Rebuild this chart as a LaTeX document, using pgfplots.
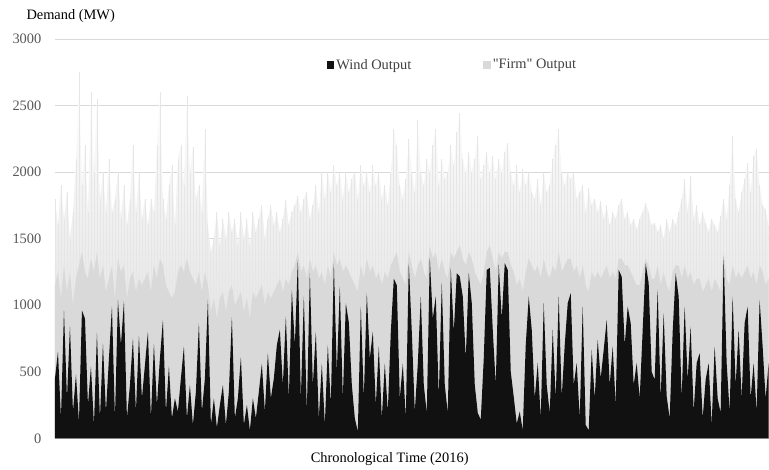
\documentclass[border=0pt]{standalone}
\usepackage{pgfplots}
\usepackage{pgfplotstable}
\usepackage{fontspec}
\setmainfont{Liberation Serif}
\newfontfamily\plainserif{Liberation Serif}
\pgfplotsset{compat=1.18}
\definecolor{windc}{HTML}{111111}
\definecolor{firmc}{HTML}{D9D9D9}
\definecolor{firmmid}{HTML}{E6E6E6}
\definecolor{gridc}{HTML}{D9D9D9}
\definecolor{tickc}{HTML}{595959}
\definecolor{legc}{HTML}{404040}
\newcommand{\cf}{\fontsize{14.4bp}{17bp}\selectfont}
\pgfplotstableread{
x wind body peak
0 450 1150 1800
3 650 1250 1600
6 150 1050 1900
9 960 1300 1650
12 300 1100 1850
15 840 1250 1500
18 200 1000 1700
21 480 1200 2100
24 120 1300 2750
27 960 1400 1900
30 900 1250 2200
33 250 1200 1700
36 540 1350 2600
39 100 1250 2000
42 790 1400 2550
45 150 1200 1800
48 710 1300 2000
51 200 1100 1700
54 600 1200 2100
57 990 1300 1700
60 150 1050 1800
63 1040 1350 2000
66 700 1250 1650
69 1030 1300 1900
72 150 1050 1600
75 400 1200 1800
78 750 1250 2200
81 200 1100 1700
84 770 1200 2000
87 300 1150 1650
90 550 1200 1800
93 800 1250 1600
96 150 1100 1800
99 710 1300 1700
102 250 1200 2200
105 600 1350 2600
108 890 1300 1800
111 200 1150 1650
114 540 1100 1900
117 150 1050 2050
120 300 1100 1600
123 200 1250 2100
126 450 1300 2200
129 690 1250 1900
132 150 1350 2570
135 400 1250 2000
138 100 1200 2190
141 350 1150 1800
144 865 1250 1900
147 200 1100 1700
150 450 1250 2320
153 1040 1150 1600
156 100 950 1400
159 300 1050 1500
162 80 900 1700
165 250 1050 1450
168 400 1100 1650
171 100 950 1500
174 350 1100 1700
177 910 1150 1550
180 150 1000 1650
183 300 1050 1450
186 610 1100 1700
189 100 950 1500
192 250 1050 1650
195 60 900 1450
198 300 1100 1700
201 150 1050 1550
204 350 1100 1650
207 560 1150 1750
210 200 1000 1500
213 640 1100 1650
216 300 1050 1750
219 450 1100 1600
222 700 1150 1700
225 815 1200 1550
228 400 1100 1650
231 915 1200 1790
234 300 1150 1600
237 1115 1250 1700
240 700 1300 1750
243 1340 1400 1820
246 300 1250 1700
249 1065 1300 1800
252 200 1200 1850
255 1240 1350 1650
258 400 1250 1750
261 800 1300 1900
264 150 1200 1700
267 560 1250 2000
270 100 1150 1800
273 700 1300 2000
276 250 1200 1850
279 1315 1400 2050
282 500 1300 1900
285 1140 1350 2000
288 300 1250 1800
291 1015 1300 2000
294 870 1250 1850
297 400 1200 1950
300 150 1150 2000
303 50 1100 1800
306 990 1300 2050
309 300 1200 1900
312 1090 1350 2000
315 600 1250 1850
318 800 1300 2050
321 250 1200 1900
324 690 1250 2000
327 150 1150 1800
330 560 1250 1900
333 200 1200 1750
336 800 1300 2000
339 1200 1350 2320
342 1150 1400 2200
345 300 1250 1900
348 560 1200 1800
351 150 1150 1950
354 1315 1400 2245
357 800 1300 2000
360 200 1200 1850
363 560 1300 2395
366 1065 1350 2000
369 400 1250 1900
372 190 1200 2100
375 1355 1450 2000
378 900 1350 2200
381 1065 1400 2320
384 310 1250 1900
387 1165 1350 2100
390 400 1250 1950
393 190 1200 2000
396 1280 1400 2200
399 800 1350 2050
402 1240 1400 2300
405 1215 1450 2445
408 1065 1350 2100
411 600 1300 2000
414 1240 1400 2150
417 1015 1350 2000
420 400 1250 2100
423 190 1200 2270
426 140 1150 1950
429 600 1250 2050
432 1265 1400 2150
435 1280 1450 2000
438 815 1350 2120
441 400 1250 1950
444 1305 1400 2100
447 900 1350 2000
450 1315 1400 2150
453 1265 1400 2220
456 500 1300 2000
459 310 1250 1900
462 110 1150 2050
465 200 1200 1850
468 60 1100 2020
471 700 1250 1900
474 1065 1350 2000
477 815 1300 1850
480 300 1250 1800
483 565 1300 1950
486 150 1200 1750
489 1015 1350 2000
492 400 1250 1850
495 190 1200 1900
498 815 1300 2100
501 300 1250 2200
504 1065 1400 2320
507 310 1250 2000
510 700 1300 1900
513 1015 1350 2000
516 1090 1350 1950
519 400 1250 2000
522 565 1300 1800
525 150 1200 1850
528 990 1300 1900
531 100 1150 1700
534 60 1100 1880
537 665 1250 1750
540 300 1200 1800
543 740 1250 1700
546 450 1200 1780
549 665 1250 1650
552 890 1300 1750
555 400 1200 1600
558 690 1250 1700
561 250 1200 1650
564 1265 1350 1750
567 1215 1350 1800
570 700 1300 1650
573 990 1300 1700
576 865 1250 1600
579 400 1200 1650
582 565 1150 1570
585 300 1150 1650
588 815 1250 1700
591 1315 1350 1770
594 1165 1300 1700
597 500 1200 1600
600 440 1200 1620
603 1115 1300 1550
606 300 1150 1600
609 940 1250 1500
612 315 1150 1650
615 150 1100 1550
618 800 1250 1650
621 1240 1300 1600
624 1065 1300 1700
627 300 1200 1800
630 990 1300 1945
633 440 1200 1700
636 840 1250 1970
639 200 1150 1650
642 565 1200 1750
645 640 1200 1600
648 150 1100 1700
651 440 1150 1620
654 565 1200 1550
657 100 1100 1650
660 690 1200 1600
663 300 1150 1550
666 190 1100 1670
669 1365 1400 1800
672 565 1200 1650
675 200 1150 1900
678 1065 1300 2270
681 400 1200 1800
684 815 1250 1700
687 300 1200 1850
690 865 1250 1950
693 990 1300 2070
696 300 1200 1850
699 565 1250 2120
702 200 1150 2170
705 1040 1300 1900
708 690 1250 1750
711 300 1150 1720
714 565 1200 1600
}\datatable
\begin{document}
\begin{tikzpicture}
\begin{axis}[
  scale only axis,
  width=714bp, height=399.5bp,
  xmin=0, xmax=714, ymin=0, ymax=3000,
  xtick=\empty,
  ytick={0,500,...,3000},
  ymajorgrids,
  grid style={color=gridc, line width=0.75bp},
  axis x line=bottom, axis y line=left,
  x axis line style={-, draw=gray!70, line width=0.75bp},
  y axis line style={draw=none},
  ytick style={draw=none},
  /pgf/number format/assume math mode=true,
  /pgf/number format/1000 sep={},
  yticklabel style={font=\cf, text=tickc, anchor=east, xshift=-8bp},
  ylabel={Demand (MW)},
  ylabel style={rotate=-90, font=\cf, text=black, at={(axis description cs:-0.0448,1.0476)}, anchor=base west},
  xlabel={Chronological Time (2016)},
  xlabel style={font=\cf, text=black, at={(axis description cs:0.469,0)}, anchor=base, yshift=-24.5bp},
  legend columns=2,
  legend style={draw=none, fill=none, font=\cf, text=legc, at={(axis description cs:0.557,0.935)}, anchor=center,
    /tikz/every even column/.append style={column sep=70bp}},
  legend image code/.code={\fill[#1] (0bp,-3.6bp) rectangle (7.5bp,3.6bp);},
]
\addlegendimage{fill=windc, draw=none}
\addlegendentry{Wind Output}
\addlegendimage{fill=firmc, draw=none}
\addlegendentry{{\plainserif"Firm"} Output}
\addplot[draw=none, bottom color=firmc, middle color=firmmid, top color=white, forget plot] table[x=x, y=peak] {\datatable} \closedcycle;
\addplot[ycomb, draw=firmmid, line width=0.8bp, mark=none, forget plot] table[x=x, y=peak] {\datatable};
\addplot[fill=firmc, draw=none, forget plot] table[x=x, y=body] {\datatable} \closedcycle;
\addplot[fill=windc, draw=none, forget plot] table[x=x, y=wind] {\datatable} \closedcycle;
\end{axis}
\path (current axis.south west) ++(-55bp,-31.5bp) rectangle ++(769bp,470bp);
\end{tikzpicture}
\end{document}
